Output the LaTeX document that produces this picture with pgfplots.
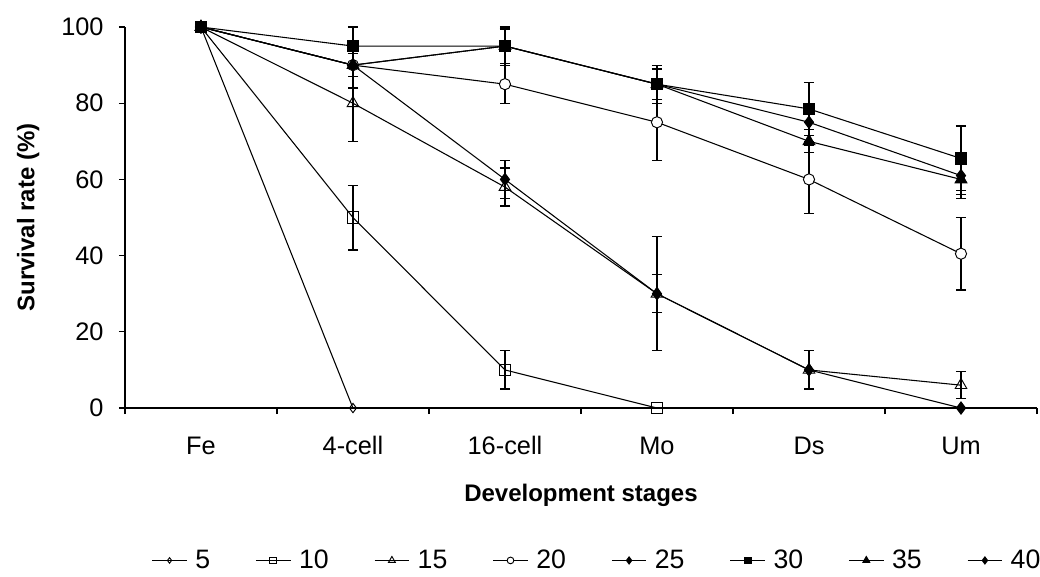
\documentclass[border=0pt]{standalone}
\usepackage{pgfplots}
\pgfplotsset{compat=1.18}
\usepackage{fontspec}
\setmainfont{Liberation Sans}
\begin{document}
\begin{tikzpicture}
\begin{axis}[scale only axis,width=684pt,height=285.75pt,
	xmin=0,xmax=6,ymin=0,ymax=100,
	axis lines*=left,axis line style={line width=0.9pt},
	tick align=outside,major tick length=4.5pt,tick style={black,line width=0.9pt},
	xtick={0,1,...,6},x tick label as interval,
	xticklabels={Fe,4-cell,16-cell,Mo,Ds,Um},
	ytick={0,20,...,100},
	font=\fontsize{19}{22}\selectfont,
	/pgf/number format/assume math mode=true,
	xticklabel style={yshift=-13pt,text height=14pt},
	yticklabel style={xshift=-8pt},
	xlabel={\bfseries Development stages},
	ylabel={\bfseries Survival rate (\%)},
	label style={font=\fontsize{18}{21}\selectfont},
	xlabel style={at={(axis description cs:0.5,-0.228)},anchor=center},
	ylabel style={at={(axis description cs:-0.106,0.5)},anchor=center,rotate=0},
	every axis plot/.append style={black,line width=0.8pt},
	error bars/y dir=both,error bars/y explicit,
	error bars/error bar style={black,line width=0.9pt},
	error bars/error mark options={black,rotate=90,mark size=3.8pt,line width=0.9pt},
	legend columns=8,
	legend style={draw=none,at={(0.518,-0.4)},anchor=center,
		font=\fontsize{20}{23}\selectfont,
		/tikz/every odd column/.append style={column sep=4pt},
		/tikz/every even column/.append style={column sep=32pt}},
	legend image code/.code={\draw[mark repeat=2,mark phase=2,line width=0.7pt,
		every mark/.append style={scale=0.6}]
		plot coordinates {(0pt,0pt)(13pt,0pt)(26pt,0pt)};},
	clip=false]
\addplot[mark=diamond,mark options={fill=white,mark size=3.5pt,line width=0.7pt}]
	coordinates {(0.5,100) (1.5,0)};
\addplot[mark=square,mark options={fill=white,mark size=4.2pt,line width=0.7pt}]
	coordinates {(0.5,100) +- (0,0) (1.5,50) +- (0,8.5) (2.5,10) +- (0,5) (3.5,0) +- (0,0)};
\addplot[mark=triangle,mark options={fill=white,mark size=5pt,line width=0.7pt}]
	coordinates {(0.5,100) +- (0,0) (1.5,80) +- (0,10) (2.5,58) +- (0,5) (3.5,30) +- (0,5) (4.5,10) +- (0,5) (5.5,6) +- (0,3.5)};
\addplot[mark=*,mark options={fill=white,mark size=4.2pt,line width=0.7pt}]
	coordinates {(0.5,100) +- (0,0) (1.5,90) +- (0,3) (2.5,85) +- (0,5) (3.5,75) +- (0,10) (4.5,60) +- (0,9) (5.5,40.5) +- (0,9.5)};
\addplot[mark=diamond*,mark options={fill=black,mark size=4.5pt}]
	coordinates {(0.5,100) +- (0,0) (1.5,90) +- (0,6) (2.5,95) +- (0,4.5) (3.5,85) +- (0,4) (4.5,75) +- (0,5) (5.5,61) +- (0,5)};
\addplot[mark=square*,mark options={fill=black,mark size=4.2pt}]
	coordinates {(0.5,100) +- (0,0) (1.5,95) +- (0,5) (2.5,95) +- (0,5) (3.5,85) +- (0,5) (4.5,78.5) +- (0,7) (5.5,65.5) +- (0,8.5)};
\addplot[mark=triangle*,mark options={fill=black,mark size=5pt}]
	coordinates {(0.5,100) +- (0,0) (1.5,90) +- (0,3) (2.5,95) +- (0,4.5) (3.5,85) +- (0,4) (4.5,70) +- (0,3) (5.5,60) +- (0,5)};
\addplot[mark=diamond*,mark options={fill=black,mark size=4.5pt}]
	coordinates {(0.5,100) +- (0,0) (1.5,90) +- (0,6) (2.5,60) +- (0,5) (3.5,30) +- (0,15) (4.5,10) +- (0,5) (5.5,0) +- (0,0)};
\legend{5,10,15,20,25,30,35,40}
\coordinate (bl) at (rel axis cs:-0.137,-0.441);
\coordinate (tr) at (rel axis cs:1.0033,1.0709);
\end{axis}
\pgfresetboundingbox
\path[use as bounding box] (bl) rectangle (tr);
\end{tikzpicture}
\end{document}
